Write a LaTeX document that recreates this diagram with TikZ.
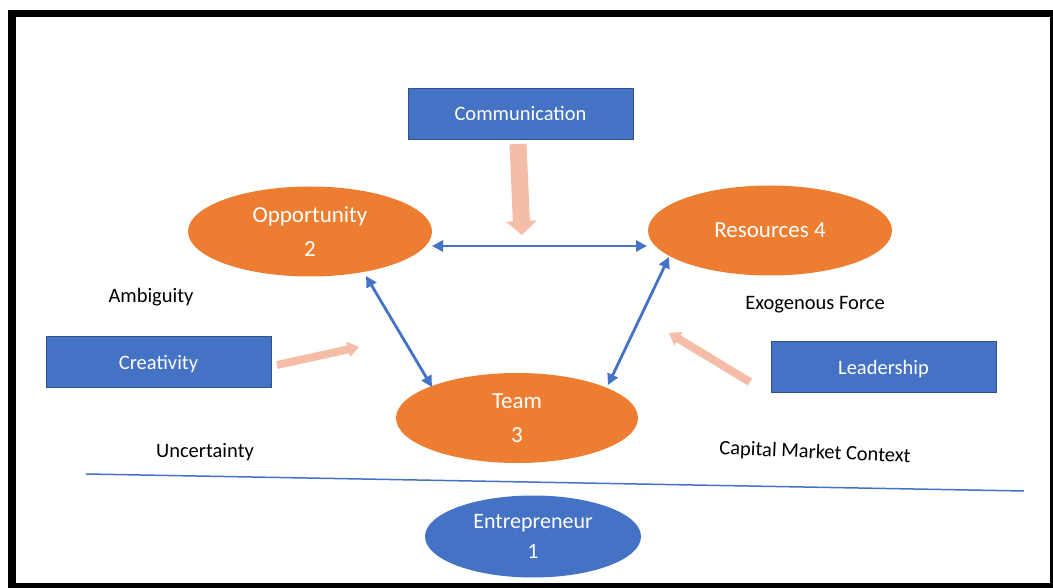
\documentclass[tikz,border=0pt]{standalone}
\usepackage{fontspec}
\setmainfont{Carlito}
\usetikzlibrary{shapes.geometric,arrows.meta}
\definecolor{orng}{HTML}{ED7D31}
\definecolor{bluA}{HTML}{4472C4}
\definecolor{bluB}{HTML}{2F528F}
\definecolor{pinkA}{HTML}{F5BDA8}
\tikzset{
  bluebox/.style={rectangle,fill=bluA,draw=bluB,line width=0.8pt,text=white,minimum width=225pt,minimum height=51pt,inner sep=0pt,text height=15pt,text depth=0pt,font=\fontsize{20.5}{24}\selectfont},
  orangeell/.style={ellipse,fill=orng,draw=none,text=white,minimum width=244pt,minimum height=90pt,inner sep=0pt,align=center,font=\fontsize{23}{34}\selectfont},
  blueell/.style={ellipse,fill=bluA,draw=none,text=white,minimum width=216pt,minimum height=82pt,inner sep=0pt,align=center,font=\fontsize{22}{30}\selectfont},
  plain/.style={text=black,inner sep=0pt,font=\fontsize{20.5}{24}\selectfont},
  link/.style={draw=bluA,line width=2.8pt,{Triangle[length=11pt,width=11pt]}-{Triangle[length=11pt,width=11pt]}},
  bigpink/.style={draw=pinkA,line width=17pt,-{Triangle[length=14pt,width=30pt]}},
  smallpink/.style={draw=pinkA,line width=8pt,-{Triangle[length=11pt,width=15pt]}}
}
\begin{document}
\begin{tikzpicture}[x=1pt,y=-1pt]
\useasboundingbox (0,0) rectangle (1053,588);
\fill[black] (8,10) rectangle (1053,588);
\fill[white] (16,17) rectangle (1050,583);

\node[bluebox] (comm) at (520.5,113.5) {Communication};
\node[bluebox] (crea) at (158.5,361.5) {Creativity};
\node[bluebox] (lead) at (883.5,366.5) {Leadership};

\node[orangeell] (opp) at (310,231.5) {Opportunity\\2};
\node[orangeell] (res) at (770,230.5) {Resources 4};
\node[orangeell,minimum width=242pt] (team) at (517,418) {Team\\3};
\node[blueell] (ent) at (533,536.5) {Entrepreneur\\1};

\node[plain] (amb) at (151,297) {Ambiguity};
\node[plain] (unc) at (205,452) {Uncertainty};
\node[plain] (exo) at (815,305) {Exogenous Force};
\node[plain,rotate=-2.5] (cap) at (815,453) {Capital Market Context};

\coordinate (commA) at (518,144);
\coordinate (commB) at (522,235);
\coordinate (creaA) at (277,365);
\coordinate (creaB) at (359,347);
\coordinate (leadA) at (750,382);
\coordinate (leadB) at (669,333);
\coordinate (lineA) at (86,474);
\coordinate (lineB) at (1024,491);
\coordinate (oppR) at (432,246);
\coordinate (resL) at (647,246);
\coordinate (oppB) at (366,276);
\coordinate (teamL) at (432,387);
\coordinate (resB) at (669,257);
\coordinate (teamR) at (608,385);

\draw[bigpink] (commA) -- (commB);
\draw[smallpink] (creaA) -- (creaB);
\draw[smallpink] (leadA) -- (leadB);

\draw[link] (oppR) -- (resL);
\draw[link] (oppB) -- (teamL);
\draw[link] (resB) -- (teamR);

\draw[bluA,line width=1.5pt] (lineA) -- (lineB);
\end{tikzpicture}
\end{document}
